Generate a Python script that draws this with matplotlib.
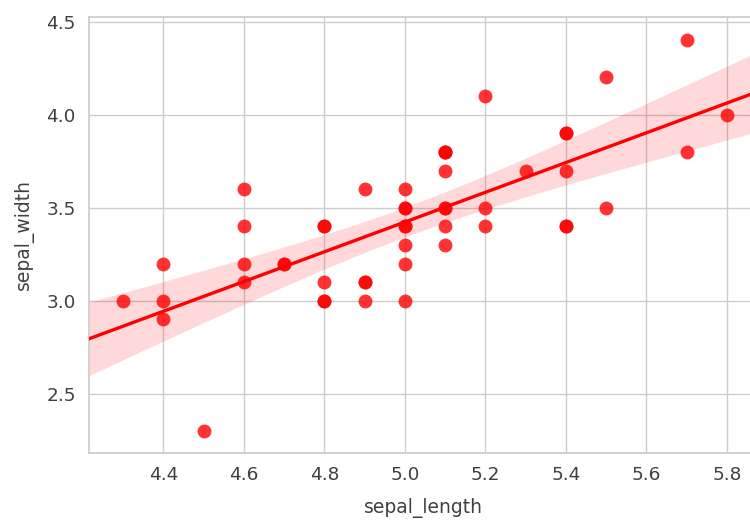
import numpy as np
import matplotlib
matplotlib.use("Agg")
import matplotlib.pyplot as plt
import seaborn as sns

sepal_length = [5.1, 4.9, 4.7, 4.6, 5.0, 5.4, 4.6, 5.0, 4.4, 4.9,
                5.4, 4.8, 4.8, 4.3, 5.8, 5.7, 5.4, 5.1, 5.7, 5.1,
                5.4, 5.1, 4.6, 5.1, 4.8, 5.0, 5.0, 5.2, 5.2, 4.7,
                4.8, 5.4, 5.2, 5.5, 4.9, 5.0, 5.5, 4.9, 4.4, 5.1,
                5.0, 4.5, 4.4, 5.0, 5.1, 4.8, 5.1, 4.6, 5.3, 5.0]
sepal_width = [3.5, 3.0, 3.2, 3.1, 3.6, 3.9, 3.4, 3.4, 2.9, 3.1,
               3.7, 3.4, 3.0, 3.0, 4.0, 4.4, 3.9, 3.5, 3.8, 3.8,
               3.4, 3.7, 3.6, 3.3, 3.4, 3.0, 3.4, 3.5, 3.4, 3.2,
               3.1, 3.4, 4.1, 4.2, 3.1, 3.2, 3.5, 3.6, 3.0, 3.4,
               3.5, 2.3, 3.2, 3.5, 3.8, 3.0, 3.8, 3.2, 3.7, 3.3]
x_ticks = [4.4, 4.6, 4.8, 5.0, 5.2, 5.4, 5.6, 5.8]
y_ticks = [2.5, 3.0, 3.5, 4.0, 4.5]

sns.set_theme(style="whitegrid")
plt.rcParams['font.family'] = ['DejaVu Sans']

fig = plt.figure(figsize=(7.5, 5.21), dpi=100)
ax = fig.add_axes([89/750, 1 - 453/521, (757 - 89)/750, (453 - 16.5)/521])

x = np.array(sepal_length)
y = np.array(sepal_width)
ax.scatter(x, y, s=100, color="red", alpha=0.8, linewidths=0, zorder=3)

xlim = (4.215, 5.875)
grid = np.linspace(xlim[0], xlim[1], 100)
slope, intercept = np.polyfit(x, y, 1)
yhat = intercept + slope * grid
n = len(x)
resid = y - (intercept + slope * x)
s = np.sqrt(np.sum(resid**2) / (n - 2))
sxx = np.sum((x - x.mean())**2)
t = 2.2
se = s * np.sqrt(1.0 / n + (grid - x.mean())**2 / sxx)
ax.plot(grid, yhat, color="red", lw=2.4, zorder=4)
ax.fill_between(grid, yhat - t * se, yhat + t * se, color="red", alpha=0.15, linewidth=0, zorder=2)

ax.set_xlim(*xlim)
ax.set_ylim(2.183, 4.527)
ax.set_xticks(x_ticks)
ax.set_yticks(y_ticks)
ax.tick_params(labelsize=13.3, colors=".25")
ax.set_xlabel("sepal_length", fontsize=13.5, color=".25", labelpad=10)
ax.set_ylabel("sepal_width", fontsize=13.5, color=".25", labelpad=9)

fig.savefig("out.png", dpi=100)
